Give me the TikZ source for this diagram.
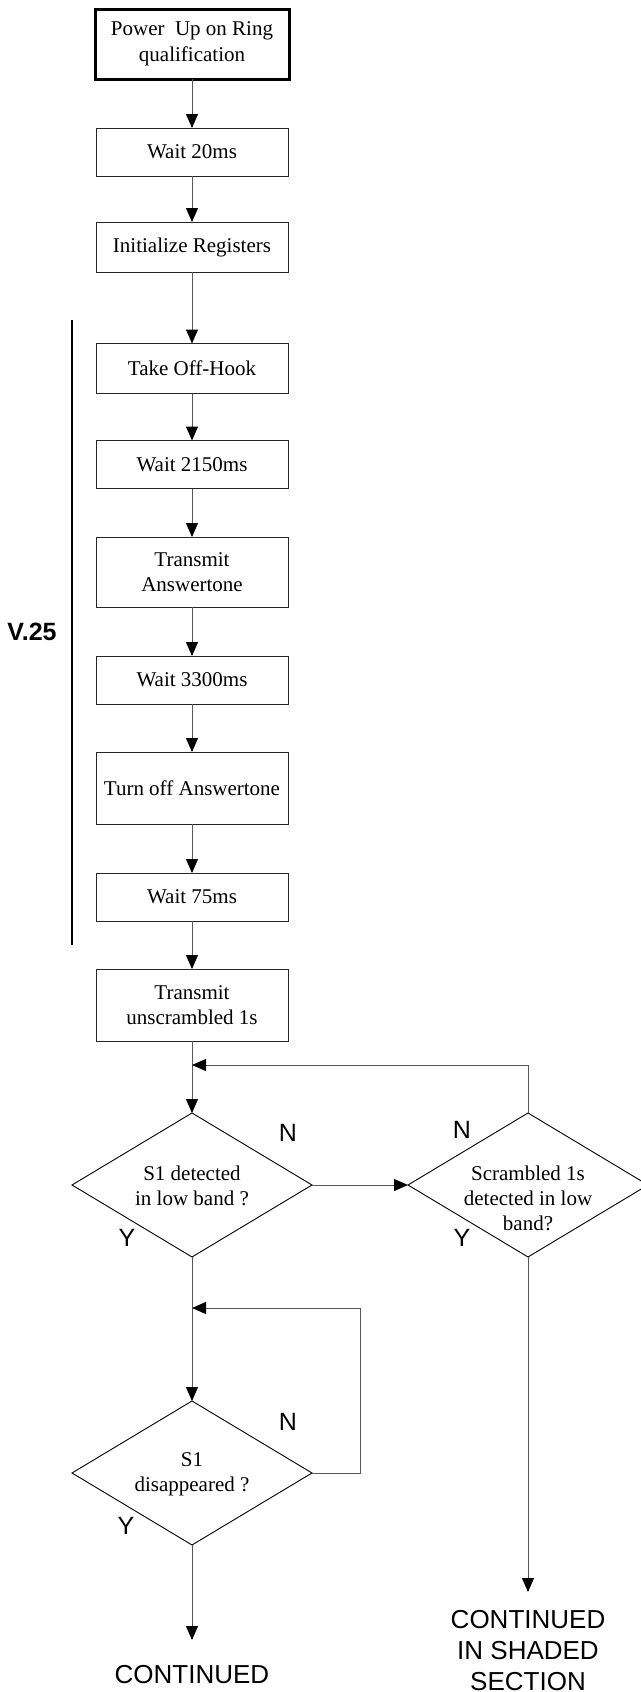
\documentclass[tikz,border=0pt]{standalone}
\usepackage{fontspec}
\setmainfont{Liberation Serif}
\newfontfamily\arialfont{Liberation Sans}
\usetikzlibrary{arrows.meta,shapes.geometric}
\begin{document}
\begin{tikzpicture}[x=1pt,y=-1pt,
  box/.style={draw=black!85, line width=1pt, minimum width=192pt, inner sep=0pt, outer sep=0pt, align=center, font=\fontsize{21}{25.5}\selectfont},
  dia/.style={draw=black, line width=0.9pt, shape=diamond, minimum width=240pt, minimum height=144pt, inner sep=0pt, outer sep=0pt},
  dtext/.style={align=center, font=\fontsize{21}{25}\selectfont, inner sep=0pt},
  yn/.style={font=\arialfont\fontsize{25}{30}\selectfont, inner sep=0pt},
  cont/.style={align=center, font=\arialfont\fontsize{26}{31}\selectfont, inner sep=0pt},
  flow/.style={draw=black!65, line width=1pt, -{Triangle[length=14pt,width=12pt,color=black]}},
]
\useasboundingbox (0,0) rectangle (640,1692);

% boxes
\node[box, line width=3pt, minimum width=194pt, minimum height=70pt, draw=black] (p) at (192,44) {Power\ \ Up on Ring\\qualification};
\node[box, minimum height=48pt] (w20) at (192,152) {Wait 20ms};
\node[box, minimum height=50pt] (init) at (192,247) {Initialize Registers};
\node[box, minimum height=50pt] (hook) at (192,368.5) {Take Off-Hook};
\node[box, minimum height=48pt] (w2150) at (192,464.5) {Wait 2150ms};
\node[box, minimum height=70pt] (ans) at (192,572) {Transmit\\Answertone};
\node[box, minimum height=48pt] (w3300) at (192,680) {Wait 3300ms};
\node[box, minimum height=72pt] (off) at (192,788) {Turn off Answertone};
\node[box, minimum height=48pt] (w75) at (192,897) {Wait 75ms};
\node[box, minimum height=72pt] (tx) at (192,1005) {Transmit\\unscrambled 1s};

% V.25 bracket
\coordinate (v1) at (72,320);
\coordinate (v2) at (72,945);
\draw[line width=2pt] (v1) -- (v2);
\node[font=\arialfont\bfseries\fontsize{25}{30}\selectfont, inner sep=0pt] (v25) at (32,632) {V.25};

% diamonds
\node[dia] (d1) at (192,1185) {};
\node[dia] (d2) at (528,1185) {};
\node[dia] (d3) at (192,1473) {};
\node[dtext] (t1) at (192,1186) {S1 detected\\in low band ?};
\node[dtext] (t2) at (528,1198) {Scrambled 1s\\detected in low\\band?};
\node[dtext] (t3) at (192,1474) {S1\\disappeared ?};

% Y/N labels
\node[yn] (n1) at (288,1133) {N};
\node[yn] (y1) at (127,1238) {Y};
\node[yn] (n2) at (462,1130) {N};
\node[yn] (y2) at (462,1238) {Y};
\node[yn] (n3) at (288,1422) {N};
\node[yn] (y3) at (126,1526) {Y};

% end texts
\node[cont] (c1) at (192,1675) {CONTINUED};
\node[cont] (c2) at (528,1651) {CONTINUED\\IN SHADED\\SECTION};

% helper coordinates
\coordinate (j1) at (192,1065);
\coordinate (k1) at (528,1065);
\coordinate (j2) at (192,1308);
\coordinate (k2) at (360,1473);
\coordinate (k3) at (360,1308);
\coordinate (e1) at (192,1640);
\coordinate (e2) at (528,1592);

% connectors
\draw[flow] (p) -- (w20);
\draw[flow] (w20) -- (init);
\draw[flow] (init) -- (hook);
\draw[flow] (hook) -- (w2150);
\draw[flow] (w2150) -- (ans);
\draw[flow] (ans) -- (w3300);
\draw[flow] (w3300) -- (off);
\draw[flow] (off) -- (w75);
\draw[flow] (w75) -- (tx);
\draw[flow] (tx) -- (d1);
\draw[flow] (d2.north) -- (k1) -- (j1);
\draw[flow] (d1.east) -- (d2.west);
\draw[flow] (d1.south) -- (d3.north);
\draw[flow] (d3.east) -- (k2) -- (k3) -- (j2);
\draw[flow] (d3.south) -- (e1);
\draw[flow] (d2.south) -- (e2);
\end{tikzpicture}
\end{document}
